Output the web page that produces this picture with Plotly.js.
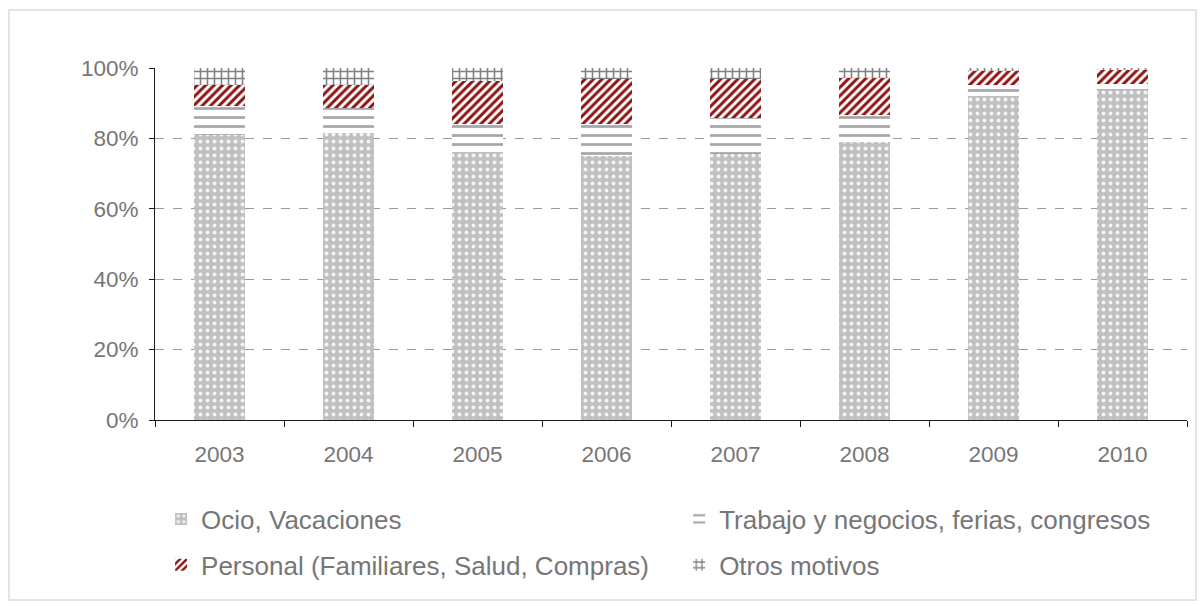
<!DOCTYPE html>
<html>
<head>
<meta charset="utf-8">
<script src="https://cdn.plot.ly/plotly-3.0.1.min.js"></script>
<style>
  body { margin: 0; background: #fff; }
  #chart { width: 1202px; height: 606px; }
  #frame { position: absolute; left: 8px; top: 9px; width: 1185px; height: 588px;
           border: 2px solid #e4e4e4; pointer-events: none; }
</style>
</head>
<body>
<div id="chart"></div>
<div id="frame"></div>
<script>
// Shares by travel motive (percent of total)
var years = ["2003", "2004", "2005", "2006", "2007", "2008", "2009", "2010"]
var ocio = [81.0, 81.6, 76.0, 75.1, 75.7, 79.1, 92.1, 93.7]
var trabajo = [8.2, 7.1, 8.0, 9.0, 10.0, 7.5, 3.1, 1.7]
var personal = [6.0, 6.5, 12.4, 12.8, 11.2, 10.7, 3.9, 4.0]
var otros = [4.8, 4.8, 3.6, 3.1, 3.1, 2.7, 0.9, 0.6]

var names = [
  "Ocio, Vacaciones",
  "Trabajo y negocios, ferias, congresos",
  "Personal (Familiares, Salud, Compras)",
  "Otros motivos",
]

var font = "Liberation Sans, Arial, sans-serif"
var grey = "#767676"

function barTrace(name, values, bg, fg, shape, size, solidity, legend) {
  return {
    type: "bar",
    name: name,
    x: years,
    y: values,
    legend: legend,
    marker: {
      color: bg,
      line: { width: 0 },
      pattern: { shape: shape, fgcolor: fg, bgcolor: bg, size: size, solidity: solidity },
    },
    hoverinfo: "skip",
  }
}

var data = [
  barTrace(names[0], ocio, "#c0c0c0", "#f4f4f4", ".", 7, 0.25, "legend"),
  barTrace(names[1], trabajo, "#ffffff", "#a6a6a6", "-", 9, 0.3, "legend2"),
  barTrace(names[2], personal, "#ffffff", "#8e1414", "/", 6, 0.5, "legend3"),
  barTrace(names[3], otros, "#ffffff", "#808080", "+", 7, 0.4, "legend4"),
]

// one legend per entry so the 2x2 grid sits where the reference has it
function legendAt(x, y) {
  return {
    orientation: "h",
    xref: "container",
    yref: "container",
    x: x,
    y: y,
    xanchor: "left",
    yanchor: "middle",
    font: { family: font, size: 26, color: grey },
    bgcolor: "rgba(0,0,0,0)",
    itemclick: false,
  }
}

var layout = {
  width: 1202,
  height: 606,
  margin: { l: 155, r: 15, t: 68, b: 186 },
  paper_bgcolor: "#ffffff",
  plot_bgcolor: "#ffffff",
  barmode: "stack",
  barnorm: "fraction",
  bargap: 0.6,
  font: { family: font, size: 22, color: grey },
  showlegend: true,
  legend: legendAt(0.134, 0.1436),
  legend2: legendAt(0.565, 0.1436),
  legend3: legendAt(0.134, 0.0677),
  legend4: legendAt(0.565, 0.0677),
  xaxis: {
    type: "category",
    showline: true,
    linecolor: "#1a1a1a",
    linewidth: 1,
    ticks: "outside",
    tickson: "boundaries",
    ticklen: 6,
    tickcolor: "#1a1a1a",
    ticklabelstandoff: 14,
    tickfont: { family: font, size: 22.5, color: grey },
    showgrid: false,
    fixedrange: true,
  },
  yaxis: {
    range: [0, 1],
    tickvals: [0, 0.2, 0.4, 0.6, 0.8, 1],
    tickformat: ".0%",
    showline: true,
    linecolor: "#1a1a1a",
    linewidth: 1,
    ticks: "outside",
    ticklen: 5,
    tickcolor: "#1a1a1a",
    ticklabelstandoff: 6,
    tickfont: { family: font, size: 22.5, color: grey },
    showgrid: true,
    gridcolor: "#9a9a9a",
    griddash: "dash",
    gridwidth: 1,
    zeroline: false,
    fixedrange: true,
  },
}

Plotly.newPlot("chart", data, layout, { displayModeBar: false, staticPlot: true })
</script>
</body>
</html>
